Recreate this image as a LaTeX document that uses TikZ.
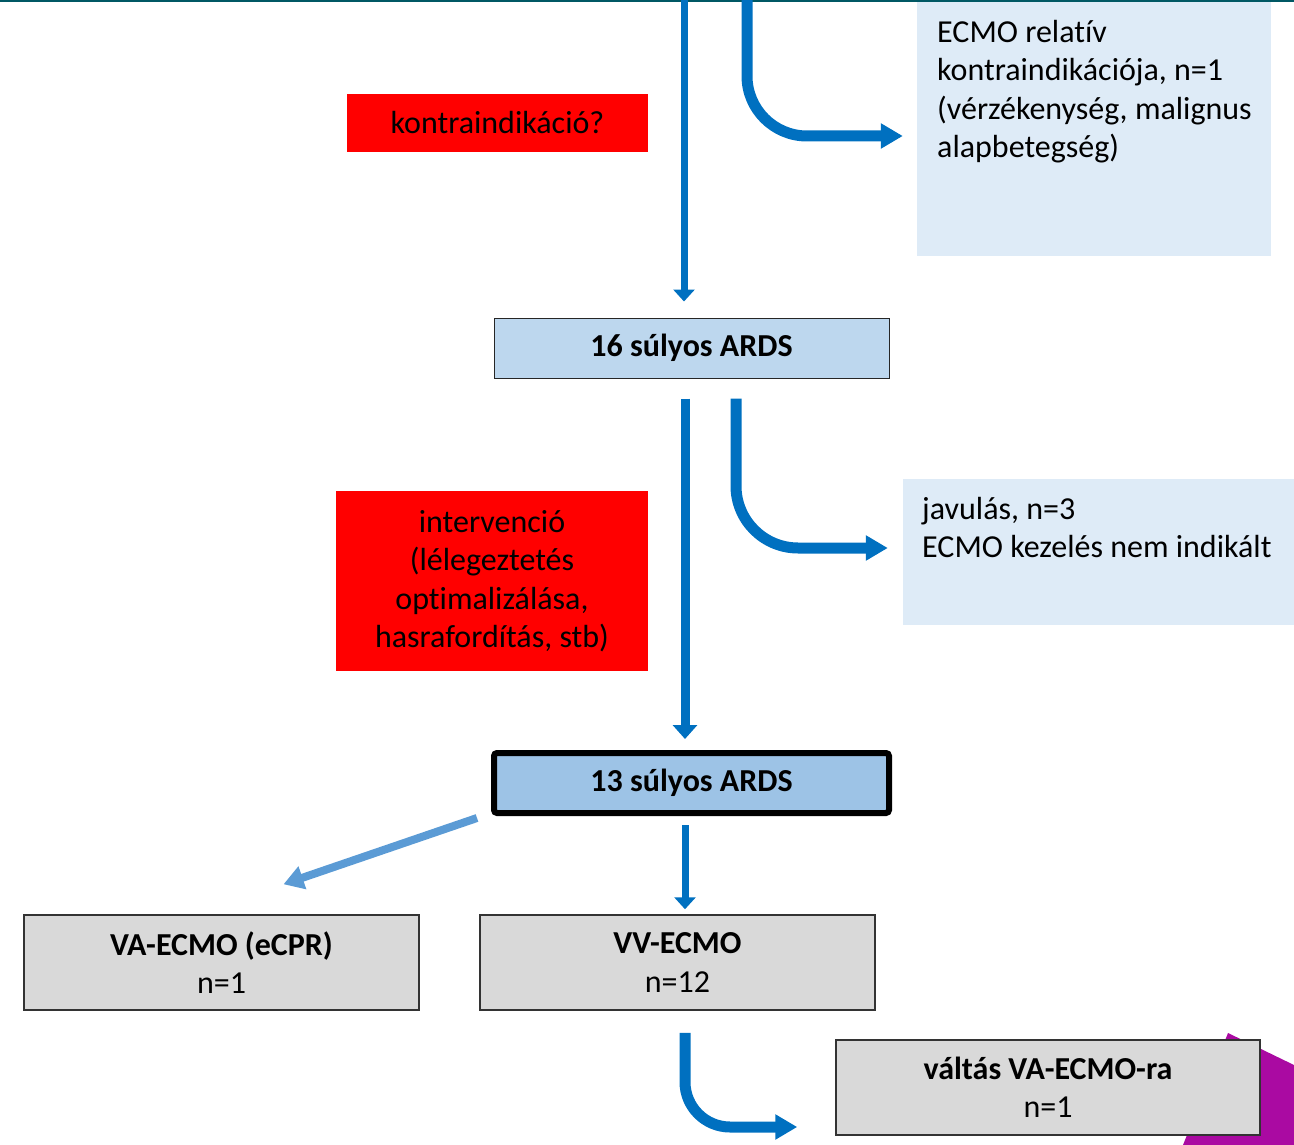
\documentclass[tikz,border=0pt]{standalone}
\usepackage{fontspec}
\setmainfont[Ligatures = NoCommon]{Carlito}
\usetikzlibrary{arrows.meta}

\definecolor{arrowBlue}{RGB}{0,112,192}
\definecolor{lightArrow}{RGB}{91,155,213}
\definecolor{paleBlue}{RGB}{222,235,247}
\definecolor{ardsBlue}{RGB}{189,215,238}
\definecolor{ardsDark}{RGB}{157,195,230}
\definecolor{boxGrey}{RGB}{217,217,217}
\definecolor{flowRed}{RGB}{255,0,0}
\definecolor{topTeal}{RGB}{0,88,100}
\definecolor{cornerPurple}{RGB}{170,10,162}

\begin{document}
\begin{tikzpicture}[x = 1pt, y = -1pt]
\tikzstyle{textStyle} = [font = \fontsize{32}{38.5}\selectfont, inner sep = 0pt]
\tikzstyle{boldStyle} = [font = \fontsize{32}{38.5}\selectfont\bfseries, inner sep = 0pt]
\tikzstyle{redStyle} = [textStyle, fill = flowRed, align = center]
\tikzstyle{noteStyle} = [fill = paleBlue, inner sep = 0pt]
\tikzstyle{ardsStyle} = [boldStyle, align = center, minimum width = 395pt, minimum height = 60pt]
\tikzstyle{greyStyle} = [textStyle, fill = boxGrey, draw = black!80, line width = 1.5pt, align = center, minimum height = 95pt]
\tikzstyle{thinArrow} = [draw = arrowBlue, line width = 7pt, -{Triangle[length = 12pt, width = 21pt]}]
\tikzstyle{midArrow} = [draw = arrowBlue, line width = 9pt, -{Triangle[length = 14pt, width = 24pt]}]
\tikzstyle{bendArrow} = [draw = arrowBlue, line width = 11pt, -{Triangle[length = 22pt, width = 24pt]}]
\tikzstyle{sideArrow} = [draw = lightArrow, line width = 8pt, -{Triangle[length = 20pt, width = 23pt]}]
\useasboundingbox (0,0) rectangle (1294,1145);
% frame decoration
\fill[cornerPurple] (1228,1033) -- (1294,1065) -- (1294,1145) -- (1183,1145) -- cycle;
\draw[topTeal, line width = 2.5pt] (0,1) -- (1294,1) ;
% boxes
\node[noteStyle, minimum width = 354pt, minimum height = 254pt] (relBox) at (1094,129) {};
\node[textStyle, align = left, anchor = base west] (relText) at (937,157.5) {ECMO relatív\\kontraindikációja, n=1\\(vérzékenység, malignus\\alapbetegség)};
\node[redStyle, minimum width = 301pt, minimum height = 58pt] (contraBox) at (497.5,123) {kontraindikáció?};
\node[ardsStyle, fill = ardsBlue, draw = black!85, line width = 1pt] (ards16) at (691.5,348) {16 súlyos ARDS};
\node[noteStyle, minimum width = 391pt, minimum height = 146pt] (javBox) at (1098.5,552) {};
\node[textStyle, align = left, anchor = base west] (javText) at (922,557.5) {javulás, n=3\\ECMO kezelés nem indikált};
\node[redStyle, minimum width = 312pt, minimum height = 180pt] (interBox) at (492,581) {intervenció\\(lélegeztetés\\optimalizálása,\\hasrafordítás, stb)};
\node[ardsStyle, fill = ardsDark, draw = black, line width = 6pt, rounded corners = 3pt] (ards13) at (691.5,783) {13 súlyos ARDS};
\node[greyStyle, minimum width = 395pt] (vaBox) at (221.5,962.5) {\textbf{VA-ECMO (eCPR)}\\n=1};
\node[greyStyle, minimum width = 395pt] (vvBox) at (677.5,962.5) {\textbf{VV-ECMO}\\n=12};
\node[greyStyle, minimum width = 424pt] (valtasBox) at (1048,1087.5) {\textbf{váltás VA-ECMO-ra}\\n=1};
% arrows
\coordinate (topA) at (684,0);
\coordinate (topB) at (747,0);
\draw[thinArrow, shorten > = 16pt] (topA) -- (topA |- ards16.north);
\draw[bendArrow, rounded corners = 60pt, shorten > = 14pt] (topB) |- ([yshift = -7pt]relBox.west);
\draw[midArrow, shorten < = 20pt, shorten > = 11pt] ([xshift = -6.5pt]ards16.south) -- ([xshift = -6.5pt]ards13.north);
\draw[bendArrow, rounded corners = 62pt, shorten < = 20pt, shorten > = 15pt] ([xshift = 44.5pt]ards16.south) |- ([yshift = 4pt]javBox.west);
\draw[sideArrow] ([xshift = -14pt, yshift = -2pt]ards13.south west) -- ([xshift = 62pt, yshift = 30pt]vaBox.north);
\draw[thinArrow, shorten < = 9pt, shorten > = 5pt] ([xshift = -6.5pt]ards13.south) -- ([xshift = -6.5pt]ards13.south |- vvBox.north);
\draw[bendArrow, rounded corners = 45pt, shorten < = 22pt, shorten > = 38pt] ([xshift = 7.5pt]vvBox.south) |- ([yshift = -39.5pt]valtasBox.west);
\end{tikzpicture}
\end{document}
